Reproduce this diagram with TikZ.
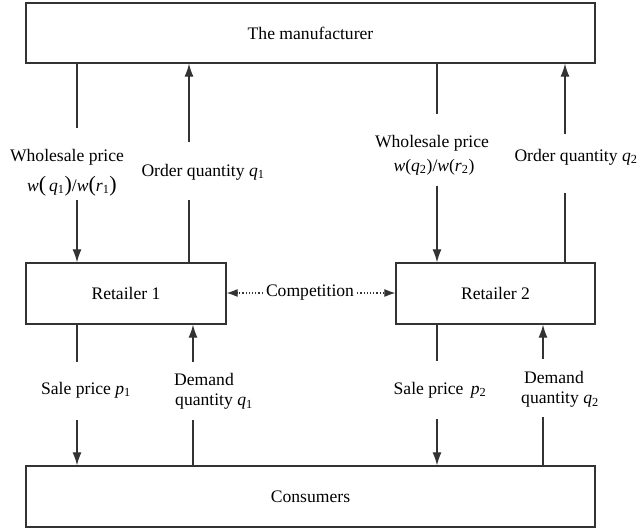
\documentclass[tikz,border=0pt]{standalone}
\usepackage{fontspec}
\setmainfont{Liberation Serif}
\usetikzlibrary{arrows.meta}
\newcommand\iv[1]{\textit{#1}}
\newcommand\ivs[2]{\textit{#1}\textsubscript{#2}}
\newcommand\bigpar[1]{{\fontsize{22}{22}\selectfont #1}}
\begin{document}
\begin{tikzpicture}[x=1pt,y=-1pt,
  every node/.style={font=\fontsize{17.6}{21}\selectfont, inner sep=0pt},
  box/.style={draw=black!80, line width=1.3pt, minimum width=569pt, anchor=center},
  conn/.style={line width=1.2pt, draw=black!80},
  arr/.style={conn, -{Latex[length=13pt,width=9pt]}},
  dotarr/.style={line width=1.2pt, draw=black!80, dotted, -{Latex[length=11pt,width=8pt]}}]
\useasboundingbox (0,0) rectangle (641,529);
% boxes
\node[box, minimum height=60pt] (man) at (310.5,33) {The manufacturer};
\node[box, minimum width=200pt, minimum height=61pt] (r1) at (126,293.5) {Retailer 1};
\node[box, minimum width=199pt, minimum height=61pt] (r2) at (495.5,293.5) {Retailer 2};
\node[box, minimum height=61pt] (con) at (310.5,496.5) {Consumers};
% labels
\node (w1a) at (67,157) {Wholesale price};
\node (w1b) at (72,186) {\iv{w}\bigpar{(}\,\ivs{q}{1}\bigpar{)}/\iv{w}\bigpar{(}\ivs{r}{1}\bigpar{)}};
\node (o1) at (203,172) {Order quantity \ivs{q}{1}};
\node (w2a) at (432,143) {Wholesale price};
\node (w2b) at (434,167) {\iv{w}(\ivs{q}{2})/\iv{w}(\ivs{r}{2})};
\node (o2) at (576,157) {Order quantity \ivs{q}{2}};
\node (s1) at (86,390) {Sale price \ivs{p}{1}};
\node[anchor=west] (d1a) at (174,379) {Demand};
\node[anchor=west] (d1b) at (175,402) {quantity \ivs{q}{1}};
\node (s2) at (440,390) {Sale price\, \ivs{p}{2}};
\node (d2a) at (554,377) {Demand};
\node (d2b) at (560,400) {quantity \ivs{q}{2}};
\node (comp) at (310,293) {Competition};
% segment end coordinates
\coordinate (w1u) at (77,128); \coordinate (w1l) at (77,200);
\coordinate (o1l) at (189,200); \coordinate (o1u) at (189,142);
\coordinate (w2u) at (437,114); \coordinate (w2l) at (437,186);
\coordinate (o2l) at (565,193); \coordinate (o2u) at (565,134);
\coordinate (s1u) at (77,362); \coordinate (s1l) at (77,420);
\coordinate (d1l) at (193,420); \coordinate (d1u) at (193,362);
\coordinate (s2u) at (437,361); \coordinate (s2l) at (437,419);
\coordinate (d2l) at (543,417); \coordinate (d2u) at (543,359);
% upper connectors
\draw[conn] (man.south -| w1u) -- (w1u);
\draw[arr] (w1l) -- (r1.north -| w1l);
\draw[conn] (r1.north -| o1l) -- (o1l);
\draw[arr] (o1u) -- (man.south -| o1u);
\draw[conn] (man.south -| w2u) -- (w2u);
\draw[arr] (w2l) -- (r2.north -| w2l);
\draw[conn] (r2.north -| o2l) -- (o2l);
\draw[arr] (o2u) -- (man.south -| o2u);
% lower connectors
\draw[conn] (r1.south -| s1u) -- (s1u);
\draw[arr] (s1l) -- (con.north -| s1l);
\draw[conn] (con.north -| d1l) -- (d1l);
\draw[arr] (d1u) -- (r1.south -| d1u);
\draw[conn] (r2.south -| s2u) -- (s2u);
\draw[arr] (s2l) -- (con.north -| s2l);
\draw[conn] (con.north -| d2l) -- (d2l);
\draw[arr] (d2u) -- (r2.south -| d2u);
% competition
\draw[dotarr] ([xshift=-3pt]comp.west) -- (r1.east |- comp.west);
\draw[dotarr] ([xshift=3pt]comp.east) -- (r2.west |- comp.east);
\end{tikzpicture}
\end{document}
